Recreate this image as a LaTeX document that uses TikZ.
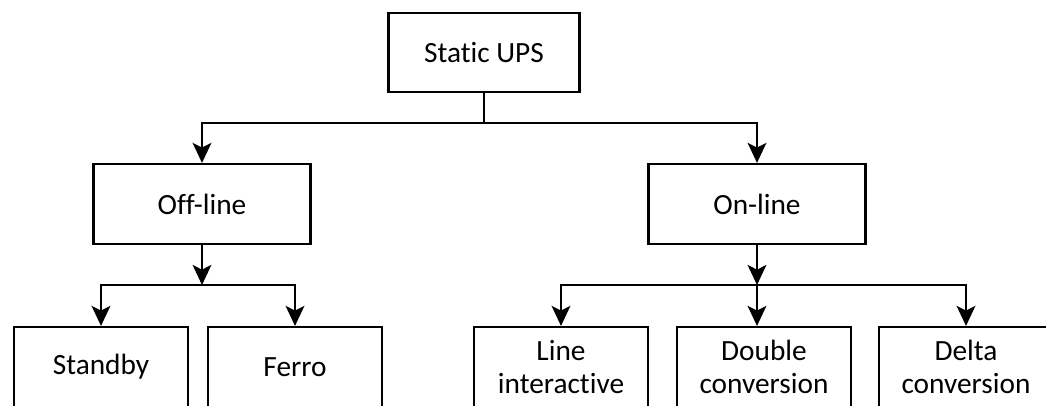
\documentclass[tikz,border=0pt]{standalone}
\usepackage{fontspec}
\setmainfont{Carlito}[Ligatures=NoCommon]
\usepackage{tikz}
\usetikzlibrary{arrows.meta, positioning, calc}
\tikzset{
    upsblock/.style={rectangle, draw=black, fill=white, minimum width=#1, minimum height=60pt, align=center, font=\fontsize{22pt}{24.75pt}\selectfont, line width=1.6pt, inner sep=2pt},
    upsblock/.default=130.5pt,
    upsline/.style={black, line width=1.8pt},
    upsarrow/.style={-{Stealth[length=15pt, width=14pt, inset=3.5pt]}, black, line width=1.8pt}
}

\begin{document}
\begin{tikzpicture}[x=0.75pt, y=-0.75pt]

\clip (0,0) rectangle (1046,406);
\useasboundingbox (0,0) rectangle (1046,406);

\node[upsblock=143.25pt, minimum height=59.25pt] (ups) at (484,52.5) {Static UPS};
\node[upsblock=162.75pt] (off) at (202,204) {Off-line};
\node[upsblock=162.75pt] (on) at (757,204) {On-line};
\node[upsblock] (standby) at (101,367) {Standby};
\node[upsblock] (ferro) at (295,367) {Ferro};
\node[upsblock] (lineint) at (561,367) {Line\\interactive};
\node[upsblock] (double) at (764,367) {Double\\conversion};
\node[upsblock] (delta) at (966,367) {Delta\\conversion};

\coordinate (upsj) at (ups.south |- 0,123);
\coordinate (offj) at (off.south |- 0,285);
\coordinate (onj) at (on.south |- 0,285);

% first level
\draw[upsline] (ups.south) -- (upsj);
\draw[upsarrow] (upsj) -| (off.north);
\draw[upsarrow] (upsj) -| (on.north);

% off-line branch
\draw[upsarrow] (off.south) -- (offj);
\draw[upsarrow] (offj) -| (standby.north);
\draw[upsarrow] (offj) -| (ferro.north);

% on-line branch
\draw[upsarrow] (on.south) -- (onj);
\draw[upsarrow] (onj) -| (lineint.north);
\draw[upsarrow] (onj) -- (onj |- double.north);
\draw[upsarrow] (onj) -| (delta.north);

\end{tikzpicture}
\end{document}
